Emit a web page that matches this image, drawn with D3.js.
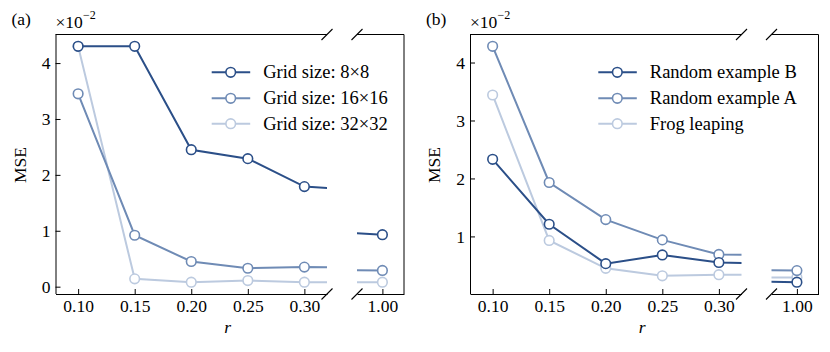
<!DOCTYPE html>
<html>
<head>
<meta charset="utf-8">
<script src="https://cdnjs.cloudflare.com/ajax/libs/d3/7.8.5/d3.min.js"></script>
<style>
  body { margin: 0; background: #fff; }
  svg text { font-family: "Times New Roman", "Liberation Serif", Times, serif; fill: #000; }
</style>
</head>
<body>
<svg id="chart" width="830" height="352"></svg>
<script>
// x positions (r) and tick labels
const rMain = [0.10, 0.15, 0.20, 0.25, 0.30];
const rAll = [0.10, 0.15, 0.20, 0.25, 0.30, 1.00];
const xTickLabels = ["0.10", "0.15", "0.20", "0.25", "0.30"];
const xTickLabelsBreak = ["1.00"];
const yTicksA = [0, 1, 2, 3, 4];
const yTicksB = [1, 2, 3, 4];

// panel (a): MSE in units of 1e-2
const gridNamesA = ["Grid size: 8×8", "Grid size: 16×16", "Grid size: 32×32"];
const grid8 = [4.30, 4.30, 2.45, 2.29, 1.79, 0.93];
const grid16 = [3.45, 0.92, 0.45, 0.33, 0.35, 0.29];
const grid32 = [4.30, 0.14, 0.08, 0.11, 0.08, 0.08];

// panel (b)
const namesB = ["Random example B", "Random example A", "Frog leaping"];
const randB = [2.33, 1.21, 0.53, 0.68, 0.55, 0.21];
const randA = [4.28, 1.93, 1.29, 0.94, 0.69, 0.41];
const frog = [3.44, 0.93, 0.45, 0.32, 0.34, 0.29];

const colors = ["#2b4f88", "#6f8bb5", "#bccadf"];
const FS = "17.5px";
const FS_LEG = "18.5px";

const svg = d3.select("#chart");

function drawPanel(opt) {
  const g = svg.append("g");
  const id = opt.id;
  const x1 = d3.scaleLinear().domain([0.08, 0.32]).range([opt.left, opt.left + 271.5]);
  const x2 = d3.scaleLinear().domain([0.98, 1.017]).range([opt.left2, opt.left2 + 47]);
  const all = opt.series.flat();
  const lo = d3.min(all), hi = d3.max(all), pad = (hi - lo) * 0.05;
  const y = d3.scaleLinear().domain([lo - pad, hi + pad]).range([294, 34.5]);

  const defs = g.append("defs");
  defs.append("clipPath").attr("id", id + "c1").append("rect")
    .attr("x", x1.range()[0]).attr("y", 34.5).attr("width", x1.range()[1] - x1.range()[0]).attr("height", 259.5);
  defs.append("clipPath").attr("id", id + "c2").append("rect")
    .attr("x", x2.range()[0]).attr("y", 34.5).attr("width", x2.range()[1] - x2.range()[0]).attr("height", 259.5);

  // lines + markers, drawn in both sub-axes and clipped
  [[x1, "c1"], [x2, "c2"]].forEach(([xs, c]) => {
    const layer = g.append("g").attr("clip-path", `url(#${id}${c})`);
    opt.series.slice().reverse().forEach((vals, ri) => {
      const i = opt.series.length - 1 - ri;
      const pts = rAll.map((r, k) => [r, vals[k]]);
      layer.append("path")
        .attr("d", d3.line().x(d => xs(d[0])).y(d => y(d[1]))(pts))
        .attr("fill", "none").attr("stroke", colors[i]).attr("stroke-width", 2);
      layer.selectAll(null).data(pts).enter().append("circle")
        .attr("cx", d => xs(d[0])).attr("cy", d => y(d[1])).attr("r", 4.8)
        .attr("fill", "#fff").attr("stroke", colors[i]).attr("stroke-width", 1.6);
    });
  });

  // axes
  const ax1 = g.append("g").attr("transform", "translate(0,294)")
    .call(d3.axisBottom(x1).tickValues(rMain).tickFormat((d, i) => xTickLabels[i]).tickSizeInner(-5).tickSizeOuter(0).tickPadding(6));
  const ax2 = g.append("g").attr("transform", "translate(0,294)")
    .call(d3.axisBottom(x2).tickValues([1.00]).tickFormat((d, i) => xTickLabelsBreak[i]).tickSizeInner(-5).tickSizeOuter(0).tickPadding(6));
  const ay = g.append("g").attr("transform", `translate(${opt.left},0)`)
    .call(d3.axisLeft(y).tickValues(opt.yTicks).tickFormat(d3.format("d")).tickSizeInner(-5).tickSizeOuter(0).tickPadding(5));
  [ax1, ax2, ay].forEach(a => {
    a.attr("font-family", null).attr("font-size", null);
    a.selectAll("text").style("font-size", FS);
    a.selectAll("line, path").attr("stroke", "#000").attr("stroke-width", 1);
  });
  ay.select(".domain").attr("d", `M0.5,34.5V294`);

  // frame spines
  g.append("line").attr("x1", x1.range()[0]).attr("x2", x1.range()[1]).attr("y1", 34.5).attr("y2", 34.5).attr("stroke", "#000");
  g.append("line").attr("x1", x2.range()[0]).attr("x2", x2.range()[1]).attr("y1", 34.5).attr("y2", 34.5).attr("stroke", "#000");
  g.append("line").attr("x1", x2.range()[1]).attr("x2", x2.range()[1]).attr("y1", 34.5).attr("y2", 294).attr("stroke", "#000");

  // break marks
  [x1.range()[1], x2.range()[0]].forEach(bx => {
    [34.5, 294].forEach(by => {
      g.append("line").attr("x1", bx - 5.5).attr("y1", by + 5.5).attr("x2", bx + 5.5).attr("y2", by - 5.5)
        .attr("stroke", "#000").attr("stroke-width", 1.1);
    });
  });

  // labels
  g.append("text").attr("x", opt.left - 44).attr("y", 25).style("font-size", FS).text(opt.tag);
  const off = g.append("text").attr("x", opt.left).attr("y", 28).style("font-size", FS);
  off.append("tspan").text("×10");
  off.append("tspan").attr("dy", -9).style("font-size", "12px").text("−2");
  g.append("text").attr("transform", `translate(${opt.left - 30},165) rotate(-90)`)
    .attr("text-anchor", "middle").style("font-size", FS).text("MSE");
  g.append("text").attr("x", (x1.range()[0] + x2.range()[1]) / 2 - 2).attr("y", 333)
    .attr("text-anchor", "middle").style("font-size", FS).style("font-style", "italic").text("r");

  // legend
  const legY = [72.3, 98.3, 123.7];
  opt.names.forEach((n, i) => {
    const lg = g.append("g");
    lg.append("line").attr("x1", opt.legX).attr("x2", opt.legX + 38.5).attr("y1", legY[i]).attr("y2", legY[i])
      .attr("stroke", colors[i]).attr("stroke-width", 2);
    lg.append("circle").attr("cx", opt.legX + 19).attr("cy", legY[i]).attr("r", 4.8)
      .attr("fill", "#fff").attr("stroke", colors[i]).attr("stroke-width", 1.6);
    lg.append("text").attr("x", opt.legX + 51.5).attr("y", legY[i] + 6).style("font-size", FS_LEG).text(n);
  });
}

drawPanel({ id: "a", tag: "(a)", left: 55.5, left2: 357, series: [grid8, grid16, grid32], names: gridNamesA, yTicks: yTicksA, legX: 211.7 });
drawPanel({ id: "b", tag: "(b)", left: 470, left2: 771.5, series: [randB, randA, frog], names: namesB, yTicks: yTicksB, legX: 598.3 });
</script>
</body>
</html>
